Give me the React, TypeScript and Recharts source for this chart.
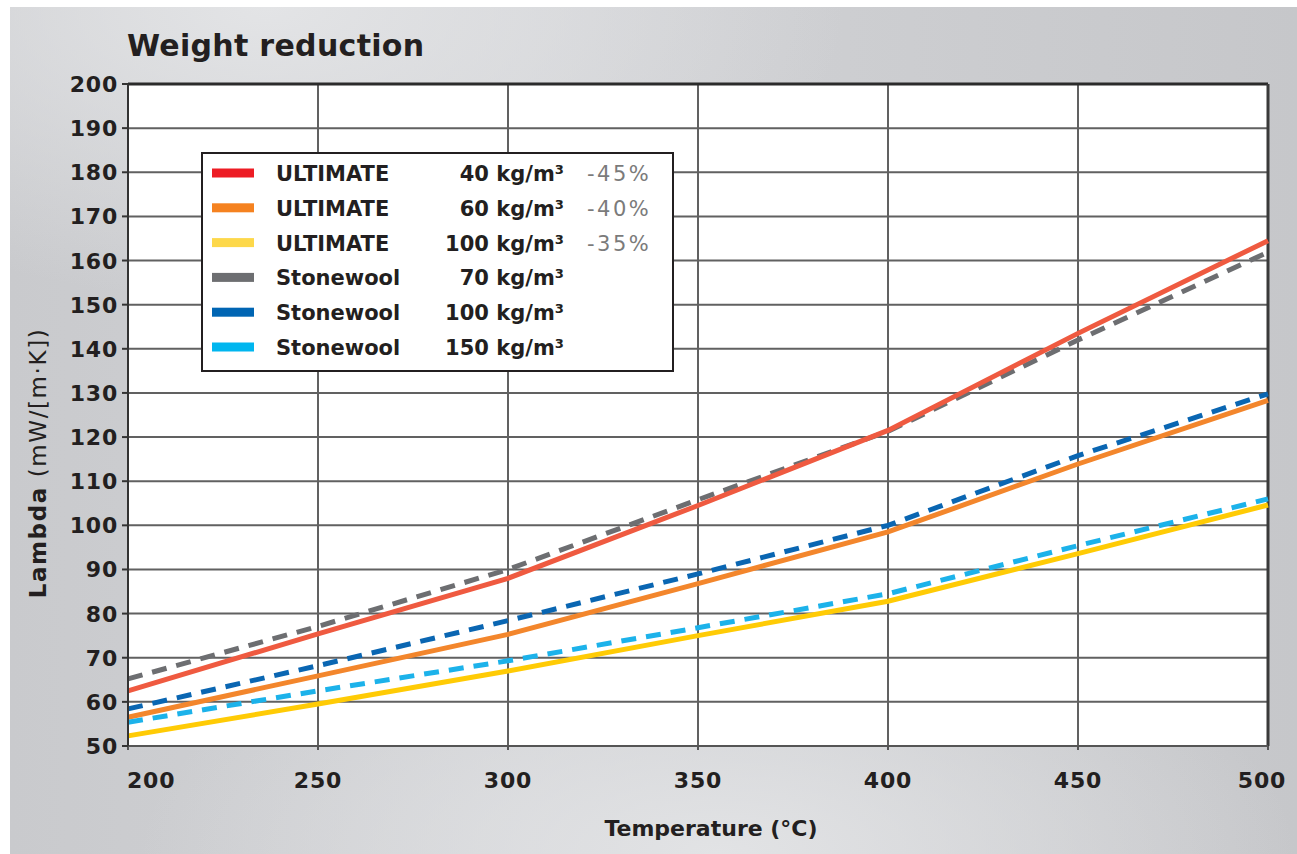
import React from "react";
import { LineChart, Line, XAxis, YAxis, CartesianGrid, ReferenceLine } from "recharts";

const temperatures = [200, 250, 300, 350, 400, 450, 500];
const ultimate40 = [62.5, 75.4, 88, 104.5, 121.5, 143.5, 164.5];
const ultimate60 = [56.5, 65.9, 75.3, 86.8, 98.5, 113.9, 128.3];
const ultimate100 = [52.3, 59.5, 67, 75, 82.8, 93.6, 104.6];
const stonewool70 = [65.2, 77.1, 90, 105.8, 121.3, 142, 161.9];
const stonewool100 = [58.4, 68.2, 78.4, 89, 100, 115.8, 129.8];
const stonewool150 = [55.4, 62.5, 69.3, 76.8, 84.5, 95.4, 106];

const xTicks = [200, 250, 300, 350, 400, 450, 500];
const yTicks = [50, 60, 70, 80, 90, 100, 110, 120, 130, 140, 150, 160, 170, 180, 190, 200];

const seriesNames = ["ULTIMATE", "ULTIMATE", "ULTIMATE", "Stonewool", "Stonewool", "Stonewool"];
const seriesDensities = ["40 kg/m³", "60 kg/m³", "100 kg/m³", "70 kg/m³", "100 kg/m³", "150 kg/m³"];
const seriesReductions = ["-45%", "-40%", "-35%", "", "", ""];
const seriesKeys = ["u40", "u60", "u100", "s70", "s100", "s150"];
const lineColors = ["#ef5a40", "#f3862c", "#ffcb05", "#6d6e71", "#0a66b2", "#1cb2ea"];
const legendColors = ["#ed1c24", "#f58220", "#fdd84a", "#6d6e71", "#0065b3", "#00b6ef"];
const dashed = [false, false, false, true, true, true];

const seriesValues = [ultimate40, ultimate60, ultimate100, stonewool70, stonewool100, stonewool150];

const data = temperatures.map((t, i) => {
  const row: any = { t };
  seriesKeys.forEach((k, j) => {
    row[k] = seriesValues[j][i];
  });
  return row;
});

const drawOrder = [3, 0, 1, 4, 2, 5];

const FONT = "'DejaVu Sans', sans-serif";

const YTick = (props: any) => {
  const { x, y, payload } = props;
  return (
    <text x={x} y={y} dy={8} textAnchor="end" fontFamily={FONT} fontWeight={700} fontSize={22} fill="#231f20" letterSpacing={0.8}>
      {payload.value}
    </text>
  );
};

const XTick = (props: any) => {
  const { x, payload, index } = props;
  let anchor: any = "middle";
  let dx = 0;
  if (index === 0) {
    anchor = "start";
    dx = -1;
  } else if (index === xTicks.length - 1) {
    dx = -6;
  }
  return (
    <text x={x + dx} y={788} textAnchor={anchor} fontFamily={FONT} fontWeight={700} fontSize={22} fill="#231f20" letterSpacing={0.8}>
      {payload.value}
    </text>
  );
};

export default function App() {
  return (
    <div style={{ position: "absolute", left: 0, top: 0, width: 1297, height: 854, background: "#fff", overflow: "hidden" }}>
      <div
        style={{
          position: "absolute",
          left: 10,
          top: 7,
          width: 1287,
          height: 847,
          background:
            "radial-gradient(ellipse 45% 30% at 55% 100%, #e2e3e5 0%, rgba(226,227,229,0) 100%), radial-gradient(ellipse 45% 35% at 20% 0%, #e3e4e6 0%, rgba(227,228,230,0) 100%), linear-gradient(90deg, #c9cacd 0%, #d2d3d6 40%, #c6c7ca 100%)",
        }}
      />
      <div style={{ position: "absolute", left: 0, top: 0 }}>
        <LineChart width={1297} height={854} data={data} margin={{ top: 84, right: 29, left: 0, bottom: 0 }}>
          <CartesianGrid stroke="#616161" strokeWidth={2} fill="#ffffff" />
          <XAxis
            dataKey="t"
            type="number"
            domain={[200, 500]}
            ticks={xTicks}
            height={108}
            stroke="#555"
            strokeWidth={2}
            tickSize={4}
            tick={<XTick />}
            interval={0}
          />
          <YAxis
            type="number"
            domain={[50, 200]}
            ticks={yTicks}
            width={128}
            stroke="#333"
            strokeWidth={2}
            tickSize={6}
            tickMargin={4}
            tick={<YTick />}
            interval={0}
          />
          <ReferenceLine y={200} stroke="#2b2b2b" strokeWidth={3} />
          <ReferenceLine x={500} stroke="#3a3a3a" strokeWidth={3} />
          {drawOrder.map((j) => (
            <Line
              key={seriesKeys[j]}
              dataKey={seriesKeys[j]}
              type="linear"
              stroke={lineColors[j]}
              strokeWidth={5}
              strokeDasharray={dashed[j] ? "15 10" : undefined}
              dot={false}
              activeDot={false}
              isAnimationActive={false}
            />
          ))}
        </LineChart>
      </div>
      <svg width={1297} height={854} style={{ position: "absolute", left: 0, top: 0, pointerEvents: "none" }}>
        <text x={127} y={56} fontFamily={FONT} fontWeight={700} fontSize={30} fill="#231f20" letterSpacing={0.3}>
          Weight reduction
        </text>
        <text x={711} y={836} textAnchor="middle" fontFamily={FONT} fontWeight={700} fontSize={22} fill="#231f20">
          Temperature (°C)
        </text>
        <text
          x={0}
          y={0}
          transform="translate(46,463) rotate(-90)"
          textAnchor="middle"
          fontFamily={FONT}
          fontSize={23}
          fill="#231f20"
          letterSpacing={1.6}
        >
          <tspan fontWeight={700}>Lambda</tspan>
          <tspan fontWeight={400}> (mW/[m·K])</tspan>
        </text>
        <rect x={202} y={153} width={471} height={218} fill="#ffffff" stroke="#231f20" strokeWidth={2} />
        {seriesNames.map((name, i) => {
          const cy = 173 + i * 34.8;
          return (
            <g key={i}>
              <rect x={212} y={cy - 4.5} width={42} height={9} fill={legendColors[i]} />
              <text x={276} y={cy + 8} fontFamily={FONT} fontWeight={700} fontSize={21} fill="#231f20">
                {name}
              </text>
              <text x={564} y={cy + 8} textAnchor="end" fontFamily={FONT} fontWeight={700} fontSize={21} fill="#231f20">
                {seriesDensities[i]}
              </text>
              <text x={587} y={cy + 8} fontFamily={FONT} fontWeight={400} fontSize={21} fill="#7b7b7b" letterSpacing={2.5}>
                {seriesReductions[i]}
              </text>
            </g>
          );
        })}
      </svg>
    </div>
  );
}
